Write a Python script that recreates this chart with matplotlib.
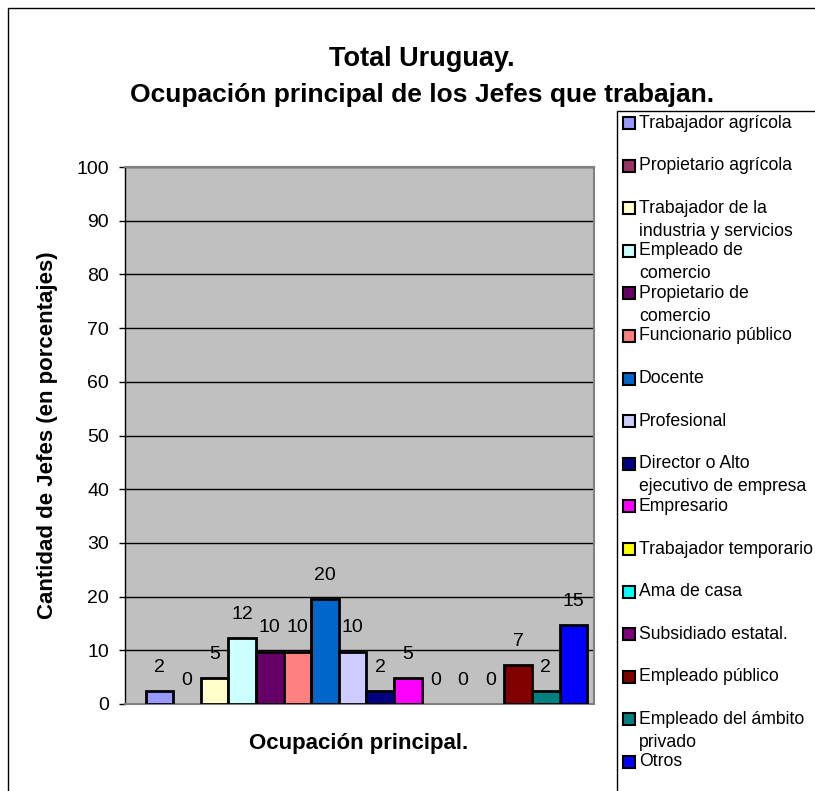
import numpy as np
import matplotlib
matplotlib.use('Agg')
import matplotlib.pyplot as plt
from matplotlib.patches import Rectangle

plt.rcParams['font.family'] = ['Liberation Sans', 'DejaVu Sans']

ocupaciones = [
    'Trabajador agrícola',
    'Propietario agrícola',
    'Trabajador de la\nindustria y servicios',
    'Empleado de\ncomercio',
    'Propietario de\ncomercio',
    'Funcionario público',
    'Docente',
    'Profesional',
    'Director o Alto\nejecutivo de empresa',
    'Empresario',
    'Trabajador temporario',
    'Ama de casa',
    'Subsidiado estatal.',
    'Empleado público',
    'Empleado del ámbito\nprivado',
    'Otros',
]
# porcentaje de jefes en cada ocupacion
porcentajes = [2.44, 0, 4.88, 12.20, 9.76, 9.76, 19.51, 9.76,
               2.44, 4.88, 0, 0, 0, 7.32, 2.44, 14.63]
colores = ['#9999FF', '#993366', '#FFFFCC', '#CCFFFF', '#660066', '#FF8080',
           '#0066CC', '#CCCCFF', '#000080', '#FF00FF', '#FFFF00', '#00FFFF',
           '#800080', '#800000', '#008080', '#0000FF']
yticks = list(range(0, 101, 10))

W, H = 815, 791


def fx(px):
    return px / W


def fy(py):
    return 1 - py / H


def main():
    fig = plt.figure(figsize=(W / 100, H / 100), dpi=100)

    # marco exterior del grafico
    fig.patches.append(Rectangle((fx(8), -0.1), 1.2, fy(8) + 0.1, transform=fig.transFigure,
                                 fill=False, edgecolor='black', linewidth=1))

    ax = fig.add_axes([fx(125), fy(704), fx(594 - 125), (704 - 167) / H])
    ax.set_facecolor('#C0C0C0')

    x = np.arange(len(porcentajes))
    for i in range(len(porcentajes)):
        lw = 2 if porcentajes[i] > 0 else 0
        ax.bar(x[i], porcentajes[i], width=1.0, color=colores[i], edgecolor='black',
               linewidth=lw, zorder=3)
        ax.annotate('{:.0f}'.format(porcentajes[i]), (x[i], porcentajes[i]),
                    xytext=(0, 17), textcoords='offset points', ha='center',
                    va='center', fontsize=14, zorder=4)

    ax.set_xlim(-1.25, len(porcentajes) - 0.25)
    ax.set_ylim(0, 100)
    ax.set_yticks(yticks)
    ax.set_xticks([])
    ax.yaxis.grid(True, color='black', linewidth=1)
    ax.set_axisbelow(True)
    ax.tick_params(axis='y', direction='out', length=4.5, width=1, pad=7,
                   labelsize=14, color='black')
    for side in ['top', 'right', 'bottom']:
        ax.spines[side].set_color('#808080')
        ax.spines[side].set_linewidth(1.5)
    ax.spines['left'].set_color('black')
    ax.spines['left'].set_linewidth(1)

    fig.text(fx(422), fy(66), 'Total Uruguay.', ha='center', va='baseline',
             fontsize=19.5, fontweight='bold')
    fig.text(fx(422), fy(102), 'Ocupación principal de los Jefes que trabajan.',
             ha='center', va='baseline', fontsize=19, fontweight='bold')
    fig.text(fx(48), fy(435), 'Cantidad de Jefes (en porcentajes)', rotation=90,
             ha='center', va='center', fontsize=16, fontweight='bold')
    fig.text(fx(359), fy(743), 'Ocupación principal.', ha='center', va='center',
             fontsize=16, fontweight='bold')

    # leyenda con entradas a espaciado fijo
    fig.patches.append(Rectangle((fx(617), -0.1), 1.0, fy(111) + 0.1,
                                 transform=fig.transFigure, fill=False,
                                 edgecolor='black', linewidth=1))
    for i in range(len(ocupaciones)):
        yc = 123 + 42.6 * i
        fig.patches.append(Rectangle((fx(623), fy(yc + 6)), fx(12), 12 / H,
                                     transform=fig.transFigure, facecolor=colores[i],
                                     edgecolor='black', linewidth=1.5))
        lines = ocupaciones[i].split('\n')
        for j in range(len(lines)):
            fig.text(fx(639), fy(yc + 23 * j), lines[j], ha='left', va='center',
                     fontsize=12.7)

    fig.savefig('out.png', dpi=100)


if __name__ == '__main__':
    main()
